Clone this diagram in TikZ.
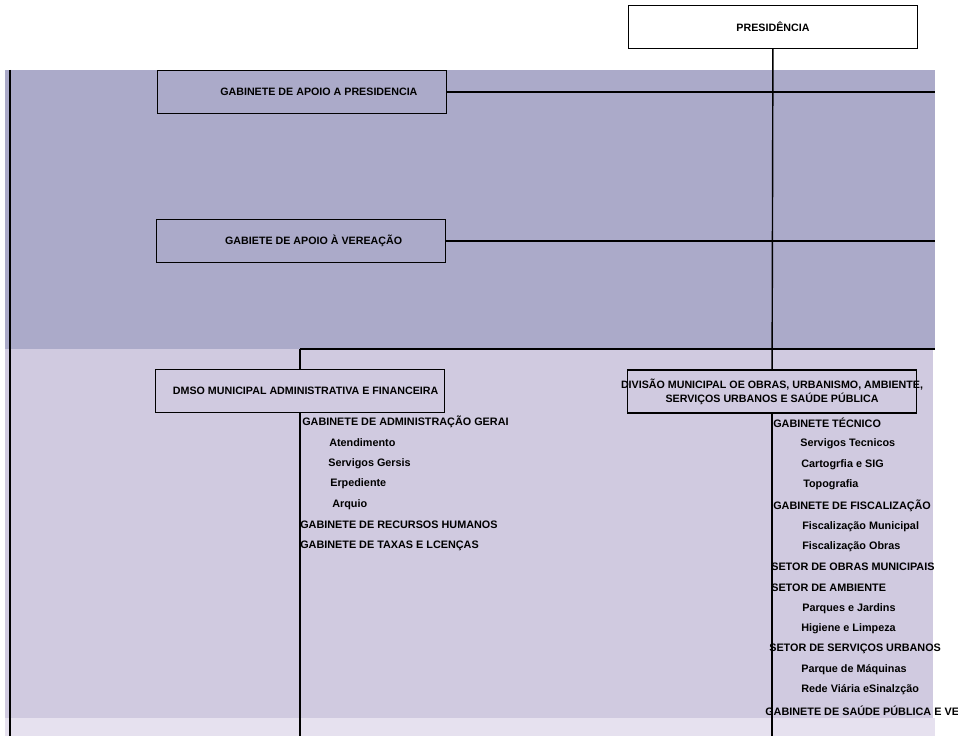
\documentclass[tikz,border=0pt]{standalone}
\usepackage{fontspec}
\setmainfont{Liberation Sans}
\usepackage{tikz}
\usetikzlibrary{positioning}
\definecolor{painelescuro}{RGB}{171,170,201}
\definecolor{painelmedio}{RGB}{208,202,224}
\definecolor{painelclaro}{RGB}{230,225,239}
\tikzstyle{caixa} = [draw, line width=0.9pt, minimum width=7.225cm, minimum height=1.075cm, inner sep=0pt, align=center, font=\fontsize{7.6}{10}\selectfont\bfseries]
\tikzstyle{texto} = [inner sep=0pt, align=center, font=\fontsize{7.6}{10}\selectfont\bfseries]
\tikzstyle{item} = [anchor=west, inner sep=0pt, font=\fontsize{7.7}{9}\selectfont\bfseries]
\tikzstyle{linha} = [line width=1pt]

\begin{document}
\begin{tikzpicture}[x=0.025cm, y=-0.025cm]   % coordenadas em pixels

        \useasboundingbox (0,0) rectangle (958,736);

        % Paineis de fundo
        \fill[painelescuro] (5,70) rectangle (935,349);
        \fill[painelmedio] (5,349) rectangle (933,718);
        \fill[painelclaro] (5,718) rectangle (935,736);

        % Presidencia
        \node[caixa, fill=white] (pres) at (773,27) {PRESIDÊNCIA};

        % Gabinetes de apoio
        \node[caixa, fill=painelescuro] (apoiopres) at (302,92) {\hspace{24pt}GABINETE DE APOIO A PRESIDENCIA};
        \node[caixa, fill=painelescuro] (apoiover) at (301,241) {\hspace{18pt}GABIETE DE APOIO À VEREAÇÃO};

        % Divisoes municipais
        \node[caixa, fill=painelmedio] (divadm) at (300,391) {\hspace{8pt}DMSO MUNICIPAL ADMINISTRATIVA E FINANCEIRA};
        \node[caixa, fill=painelmedio] (divobras) at (772,391.5) {};
        \node[texto] (divobrastxt) at (divobras) {DIVISÃO MUNICIPAL OE OBRAS, URBANISMO, AMBIENTE,\\SERVIÇOS URBANOS E SAÚDE PÚBLICA};

        % Pontos livres das linhas
        \coordinate (ramo) at (300,349);
        \coordinate (fimdir) at (935,349);
        \coordinate (fundo) at (772,736);
        \coordinate (esqtopo) at (10,70);
        \coordinate (esqfundo) at (10,736);

        % Linhas de ligacao
        \draw[linha] (pres) -- (divobras);                       % tronco principal
        \draw[linha] (divobras) -- (fundo);
        \draw[linha] (apoiopres.east) -- (apoiopres.east -| fimdir);
        \draw[linha] (apoiover.east) -- (apoiover.east -| fimdir);
        \draw[linha] (ramo) -- (fimdir);
        \draw[linha] (ramo) -- (divadm);
        \draw[linha] (divadm) -- (divadm |- fundo);
        \draw[linha] (esqtopo) -- (esqfundo);                    % linha da esquerda

        % Servicos da divisao administrativa
        \node[item] (ger) at (302,422) {GABINETE DE ADMINISTRAÇÃO GERAI};
        \node[item] (ate) at (329,443) {Atendimento};
        \node[item] (sg) at (328,464) {Servigos Gersis};
        \node[item] (exp) at (330,484) {Erpediente};
        \node[item] (arq) at (332,505) {Arquio};
        \node[item] (rh) at (300,525) {GABINETE DE RECURSOS HUMANOS};
        \node[item] (tax) at (300,546) {GABINETE DE TAXAS E LCENÇAS};

        % Servicos da divisao de obras
        \node[item] (tec) at (773,423) {GABINETE TÉCNICO};
        \node[item] (st) at (800,444) {Servigos Tecnicos};
        \node[item] (car) at (801,465) {Cartogrfia e SIG};
        \node[item] (top) at (803,485) {Topografia};
        \node[item] (fis) at (773,506) {GABINETE DE FISCALIZAÇÃO};
        \node[item] (fm) at (802,527) {Fiscalização Municipal};
        \node[item] (fo) at (802,547) {Fiscalização Obras};
        \node[item] (som) at (771,567) {SETOR DE OBRAS MUNICIPAIS};
        \node[item] (amb) at (771,588) {SETOR DE AMBIENTE};
        \node[item] (pj) at (802,609) {Parques e Jardins};
        \node[item] (hl) at (801,629) {Higiene e Limpeza};
        \node[item] (ssu) at (769,649) {SETOR DE SERVIÇOS URBANOS};
        \node[item] (pm) at (801,670) {Parque de Máquinas};
        \node[item] (rv) at (801,690) {Rede Viária eSinalzção};
        \node[item] (sau) at (765,711) {GABINETE DE SAÚDE PÚBLICA E VE};

\end{tikzpicture}
\end{document}
